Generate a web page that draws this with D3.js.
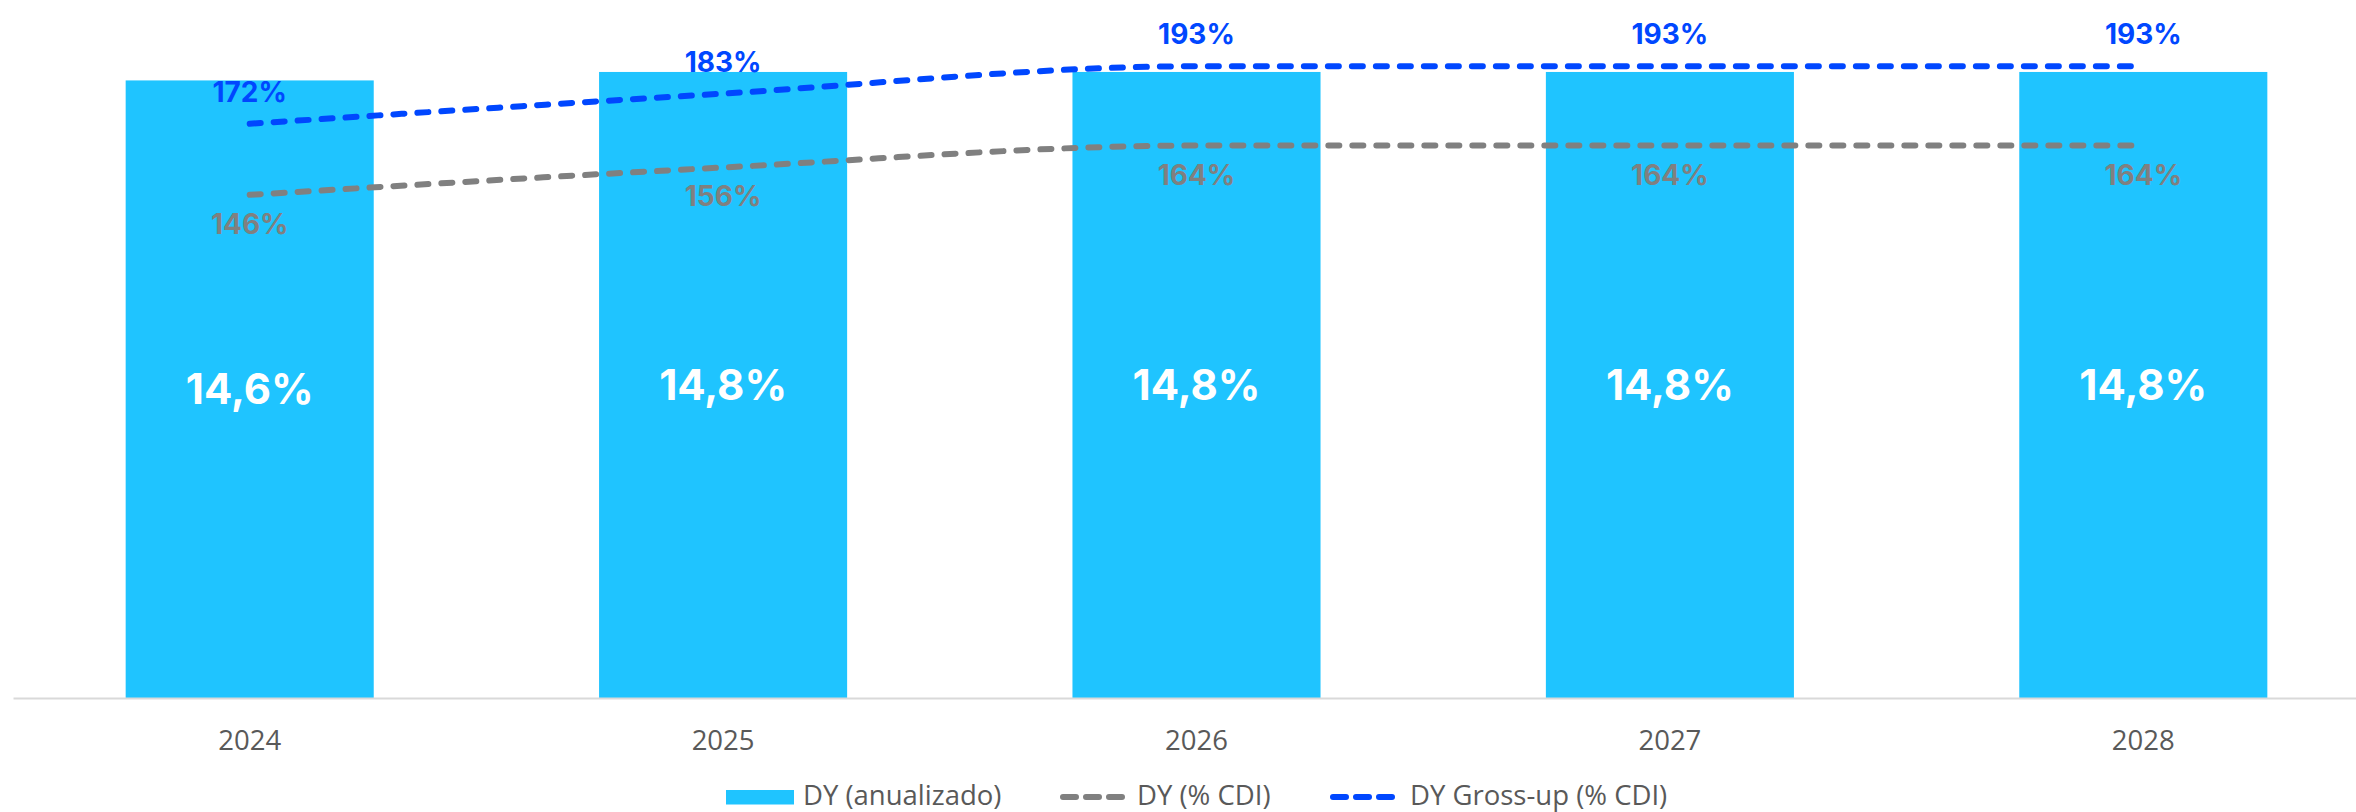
<!DOCTYPE html>
<meta charset="utf-8">
<head>
    <title>DY anualizado</title>
    <script src="https://d3js.org/d3.v7.min.js"></script>
    <style>
        body { margin: 0; background: #fff; }
        svg { display: block; }
        text.tick-label { font-family: 'Open Sans', sans-serif; font-size: 27.5px; fill: #595959; }
        text.bar-value { font-family: Inter, sans-serif; font-weight: 700; font-size: 42px; fill: #fff; }
        text.line-value { font-family: Inter, sans-serif; font-weight: 700; font-size: 28px; }
        text.legend { font-family: 'Open Sans', sans-serif; font-size: 27.5px; fill: #595959; }
    </style>
</head>
<body>
<svg width="2356" height="812"></svg>
<script>
    const years = ['2024', '2025', '2026', '2027', '2028'];
    const dyAnual = [14.6, 14.8, 14.8, 14.8, 14.8];
    const dyCdi = [146, 156, 164, 164, 164];
    const dyGross = [172, 183, 193, 193, 193];
    const seriesNames = ['DY (anualizado)', 'DY (% CDI)', 'DY Gross-up (% CDI)'];

    const colors = { bar: '#1FC4FF', gray: '#808080', blue: '#0047FF' };

    const svg = d3.select('svg');
    const baseY = 698;

    const x = d3.scaleBand()
        .domain(years)
        .range([13, 2380])
        .paddingInner(0.476)
        .paddingOuter(0.238);

    const y = d3.scaleLinear().domain([0, 15]).range([baseY, 63.5]);
    const y2 = d3.scaleLinear().domain([0, 200]).range([594.3, 47.1]);

    const cx = (d) => x(d) + x.bandwidth() / 2;

    // bars
    svg.append('g').selectAll('rect')
        .data(years)
        .join('rect')
        .attr('x', (d) => x(d))
        .attr('y', (d, i) => y(dyAnual[i]))
        .attr('width', x.bandwidth())
        .attr('height', (d, i) => baseY - y(dyAnual[i]))
        .attr('fill', colors.bar);

    // x axis
    const axis = svg.append('g')
        .attr('transform', `translate(0, ${baseY})`)
        .call(d3.axisBottom(x).tickSize(0).tickPadding(0));
    axis.select('.domain').attr('stroke', '#D9D9D9').attr('stroke-width', 2);
    axis.selectAll('.tick text')
        .attr('class', 'tick-label')
        .attr('font-size', null)
        .attr('font-family', null)
        .attr('fill', null)
        .attr('y', 52)
        .attr('dy', null);

    // bar labels
    svg.append('g').selectAll('text')
        .data(years)
        .join('text')
        .attr('class', 'bar-value')
        .attr('text-anchor', 'middle')
        .attr('x', cx)
        .attr('y', (d, i) => (y(dyAnual[i]) + baseY) / 2 + 15)
        .text((d, i) => d3.format('.1f')(dyAnual[i]).replace('.', ',') + '%');

    // lines
    const line = d3.line()
        .x((d, i) => cx(years[i]))
        .y((d) => y2(d))
        .curve(d3.curveMonotoneX);

    [[dyCdi, colors.gray], [dyGross, colors.blue]].forEach(([vals, c]) => {
        svg.append('path')
            .attr('d', line(vals))
            .attr('fill', 'none')
            .attr('stroke', c)
            .attr('stroke-width', 6)
            .attr('stroke-linecap', 'round')
            .attr('stroke-dasharray', '11 13');
    });

    // line labels
    svg.append('g').selectAll('text')
        .data(years)
        .join('text')
        .attr('class', 'line-value')
        .attr('text-anchor', 'middle')
        .attr('fill', colors.blue)
        .attr('x', cx)
        .attr('y', (d, i) => y2(dyGross[i]) - 22)
        .text((d, i) => dyGross[i] + '%');

    svg.append('g').selectAll('text')
        .data(years)
        .join('text')
        .attr('class', 'line-value')
        .attr('text-anchor', 'middle')
        .attr('fill', colors.gray)
        .attr('x', (d) => cx(d))
        .attr('y', (d, i) => y2(dyCdi[i]) + 39)
        .text((d, i) => dyCdi[i] + '%');

    // legend
    const legend = svg.append('g').attr('transform', 'translate(0, 797)');

    legend.append('rect')
        .attr('x', 726).attr('y', -7).attr('width', 68).attr('height', 14.5)
        .attr('fill', colors.bar);
    legend.append('text').attr('class', 'legend')
        .attr('x', 803).attr('y', 8).text(seriesNames[0]);

    legend.append('line')
        .attr('x1', 1063).attr('x2', 1122).attr('y1', 0).attr('y2', 0)
        .attr('stroke', colors.gray).attr('stroke-width', 6)
        .attr('stroke-linecap', 'round').attr('stroke-dasharray', '13 10');
    legend.append('text').attr('class', 'legend')
        .attr('x', 1137).attr('y', 8).text(seriesNames[1]);

    legend.append('line')
        .attr('x1', 1333).attr('x2', 1394).attr('y1', 0).attr('y2', 0)
        .attr('stroke', colors.blue).attr('stroke-width', 6)
        .attr('stroke-linecap', 'round').attr('stroke-dasharray', '13 10');
    legend.append('text').attr('class', 'legend')
        .attr('x', 1410).attr('y', 8).text(seriesNames[2]);
</script>
</body>
